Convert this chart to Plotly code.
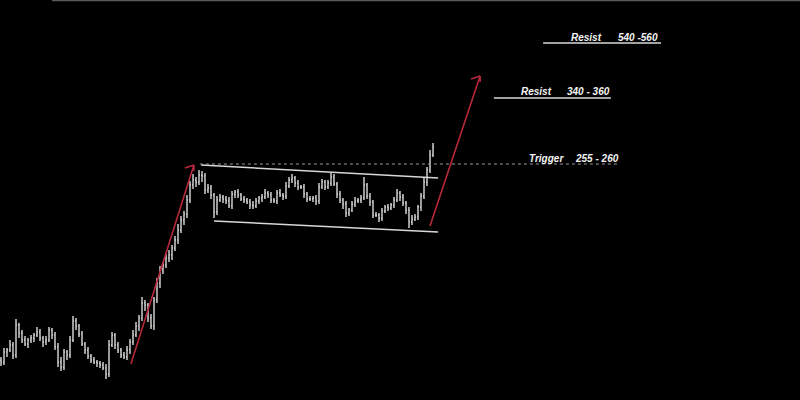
import plotly.graph_objects as go

# Price closes (one bar per index)
closes = [
    58, 68, 70, 75, 65, 95, 87, 80, 76, 80,
    82, 85, 88, 82, 78, 80, 90, 85, 73, 58,
    53, 68, 65, 80, 99, 94, 86, 76, 70, 64,
    60, 58, 57, 55, 52, 46, 75, 85, 75, 70,
    65, 63, 70, 78, 85, 94, 102, 117, 115, 102,
    94, 120, 137, 150, 155, 162, 165, 172, 180, 190,
    200, 206, 220, 235, 240, 238, 245, 244, 230, 232,
    225, 208, 220, 223, 221, 219, 214, 226, 228, 225,
    221, 220, 218, 215, 214, 219, 222, 223, 227, 225,
    220, 219, 227, 225, 224, 234, 240, 242, 237, 233,
    233, 226, 221, 221, 222, 219, 233, 238, 233, 237,
    243, 236, 226, 220, 216, 207, 210, 216, 219, 220,
    222, 235, 224, 218, 205, 205, 202, 209, 213, 212,
    215, 220, 227, 223, 217, 210, 198, 201, 203, 213,
    224, 238, 250, 265, 273,
]
first_open = 60
wick_up = [
    3, 4, 2, 5, 3, 6, 2, 3, 4, 2,
    3, 2, 5, 3, 2, 4, 3, 2, 3, 4,
    5, 3, 2, 4, 5, 3, 2, 3, 2, 3,
    2, 3, 2, 2, 3, 4, 5, 3, 2, 3,
    2, 3, 4, 3, 5, 4, 3, 6, 3, 2,
    4, 3, 5, 4, 3, 4, 5, 3, 4, 6,
    4, 3, 5, 4, 6, 3, 5, 4, 3, 4,
    3, 2, 4, 3, 2, 3, 4, 3, 2, 3,
    2, 3, 2, 3, 4, 3, 2, 3, 4, 2,
    3, 2, 3, 4, 2, 4, 3, 4, 2, 3,
    2, 3, 2, 3, 2, 3, 4, 3, 2, 3,
    4, 3, 2, 3, 2, 3, 2, 3, 4, 2,
    3, 8, 2, 3, 2, 3, 2, 3, 2, 3,
    2, 3, 4, 2, 3, 2, 3, 4, 3, 2,
    3, 4, 3, 5, 4,
]
wick_dn = [
    4, 3, 5, 2, 4, 3, 5, 3, 2, 4,
    3, 4, 2, 3, 5, 3, 2, 4, 3, 5,
    4, 3, 5, 3, 2, 4, 3, 2, 4, 3,
    3, 2, 4, 3, 2, 5, 3, 2, 4, 3,
    3, 2, 3, 4, 3, 2, 5, 3, 6, 4,
    3, 4, 3, 5, 4, 3, 4, 5, 3, 4,
    3, 5, 4, 3, 4, 5, 3, 6, 4, 3,
    4, 6, 3, 2, 4, 3, 2, 3, 4, 3,
    2, 3, 2, 4, 3, 2, 3, 4, 2, 3,
    3, 2, 3, 2, 4, 3, 2, 3, 4, 3,
    2, 4, 3, 2, 3, 4, 3, 2, 3, 2,
    3, 2, 4, 3, 5, 4, 3, 2, 3, 2,
    3, 2, 3, 4, 3, 2, 4, 3, 2, 3,
    2, 3, 2, 4, 3, 4, 6, 3, 2, 3,
    4, 3, 4, 3, 2,
]

# Annotation levels
levels = [
    {"word": "Resist", "value": "540 -560"},
    {"word": "Resist", "value": "340 - 360"},
    {"word": "Trigger", "value": "255 - 260"},
]

bars = list(range(len(closes)))
opens = [first_open] + closes[:-1]
highs = [max(o, c) + w for o, c, w in zip(opens, closes, wick_up)]
lows = [min(o, c) - w for o, c, w in zip(opens, closes, wick_dn)]

fig = go.Figure()
fig.add_trace(go.Ohlc(
    x=bars, open=opens, high=highs, low=lows, close=closes,
    increasing=dict(line=dict(color="#ffffff", width=1.2)),
    decreasing=dict(line=dict(color="#ffffff", width=1.2)),
    tickwidth=0.3, hoverinfo="skip",
))

shapes = []
line_col = "#d8d8d8"
red = "#b8283c"
# channel
shapes.append(dict(type="line", xref="x", yref="y", x0=66.7, y0=255, x1=145.7, y1=242,
                   line=dict(color=line_col, width=1.5)))
shapes.append(dict(type="line", xref="x", yref="y", x0=71.0, y0=199, x1=145.7, y1=188,
                   line=dict(color=line_col, width=1.5)))
# trigger dotted line
shapes.append(dict(type="line", xref="x", yref="y", x0=66.3, y0=256, x1=206.3, y1=256,
                   line=dict(color="#9a9a9a", width=1, dash="dot")))
# resist lines
shapes.append(dict(type="line", xref="x", yref="y", x0=164.3, y0=322, x1=203.3, y1=322,
                   line=dict(color=line_col, width=1.5)))
shapes.append(dict(type="line", xref="x", yref="y", x0=180.7, y0=377, x1=220.0, y1=377,
                   line=dict(color=line_col, width=1.5)))
# red arrows
for (tx, ty, hx, hy, l, r) in [
    ((43.3, 56, 64.3, 255, (61.3, 252), (64.3, 249))),
    ((143.0, 194, 159.7, 344, (156.7, 341), (159.7, 338))),
]:
    shapes.append(dict(type="line", xref="x", yref="y", x0=tx, y0=ty, x1=hx, y1=hy,
                       line=dict(color=red, width=1.6)))
    shapes.append(dict(type="line", xref="x", yref="y", x0=hx, y0=hy, x1=l[0], y1=l[1],
                       line=dict(color=red, width=1.6)))
    shapes.append(dict(type="line", xref="x", yref="y", x0=hx, y0=hy, x1=r[0], y1=r[1],
                       line=dict(color=red, width=1.6)))
# top border
shapes.append(dict(type="line", xref="paper", yref="paper", x0=0.065, y0=0.999, x1=1, y1=0.999,
                   line=dict(color="#5a5a5a", width=1.5)))

font = dict(family="Liberation Sans, Arial, sans-serif", size=10, color="#f4f4f4")
anns = []
# positions: (word right x, value right x, y)
pos = [(201.0, 219.7, 383), (184.3, 203.7, 329), (188.3, 206.7, 262)]
for lv, (wx, vx, y) in zip(levels, pos):
    anns.append(dict(x=wx, y=y, xref="x", yref="y", text="<b><i>" + lv["word"] + "</i></b>",
                     showarrow=False, xanchor="right", yanchor="middle", font=font))
    anns.append(dict(x=vx, y=y, xref="x", yref="y", text="<b><i>" + lv["value"] + "</i></b>",
                     showarrow=False, xanchor="right", yanchor="middle", font=font))

fig.update_layout(
    width=800, height=400,
    margin=dict(l=0, r=0, t=0, b=0),
    paper_bgcolor="black", plot_bgcolor="black",
    showlegend=False,
    shapes=shapes, annotations=anns,
    xaxis=dict(range=[-1/3, 799/3], visible=False, rangeslider=dict(visible=False), fixedrange=True),
    yaxis=dict(range=[20, 420], visible=False, fixedrange=True),
)
fig.write_html("out.html", config={"displayModeBar": False},
               post_script="document.body.style.margin='0';document.body.style.background='black';")
